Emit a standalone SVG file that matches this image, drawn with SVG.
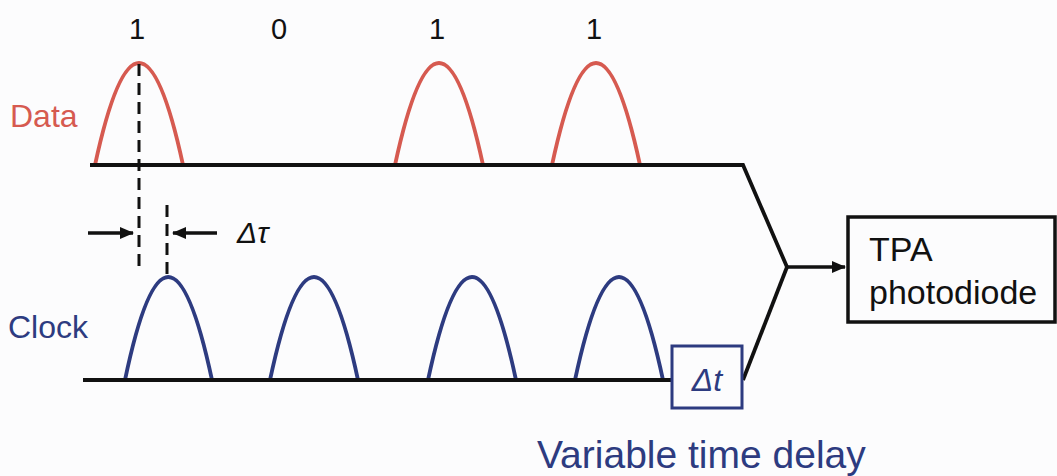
<svg xmlns="http://www.w3.org/2000/svg" width="1057" height="476" viewBox="0 0 1057 476">
  <defs>
    <marker id="ah" viewBox="0 0 14 12" refX="13" refY="6" markerWidth="14" markerHeight="12" markerUnits="userSpaceOnUse" orient="auto">
      <path d="M0,0 L14,6 L0,12 z" fill="#111"/>
    </marker>
    <marker id="ahBig" viewBox="0 0 14 12" refX="13" refY="6" markerWidth="14" markerHeight="12" markerUnits="userSpaceOnUse" orient="auto">
      <path d="M0,0 L14,6 L0,12 z" fill="#111"/>
    </marker>
    <style>
      .txt { font-family: "Liberation Sans", Arial, sans-serif; }
      .red { fill: #d65a50; }
      .blue { fill: #2d3b80; }
      .pulseR { fill: none; stroke: #d65a50; stroke-width: 3.8; }
      .pulseB { fill: none; stroke: #2d3b80; stroke-width: 3.8; }
      .line { fill: none; stroke: #111; stroke-width: 3.8; }
      .dash { fill: none; stroke: #111; stroke-width: 3; stroke-dasharray: 12 7; }
      .arr { fill: none; stroke: #111; stroke-width: 3.5; }
    </style>
  </defs>
  <rect width="1057" height="476" fill="#fcfcfd"/>

  <g id="bit-labels" class="txt" font-size="29" fill="#111" text-anchor="middle">
    <text x="137" y="39">1</text>
    <text x="279" y="39">0</text>
    <text x="437" y="39">1</text>
    <text x="594" y="39">1</text>
  </g>

  <g id="data-label"><text class="txt red" x="10" y="127" font-size="32">Data</text></g>
  <g id="clock-label"><text class="txt blue" x="8" y="338" font-size="32">Clock</text></g>

  <g id="data-pulses">
    <path class="pulseR" d="M95,165 Q139,-39 183,165"/>
    <path class="pulseR" d="M395,165 Q439,-39 483,165"/>
    <path class="pulseR" d="M552,165 Q596,-39 640,165"/>
  </g>

  <g id="clock-pulses">
    <path class="pulseB" d="M125,380 Q168,174 212,380"/>
    <path class="pulseB" d="M270,380 Q314,174 358,380"/>
    <path class="pulseB" d="M428,380 Q472,174 516,380"/>
    <path class="pulseB" d="M575,380 Q619,174 663,380"/>
  </g>

  <g id="delay-marks">
    <line class="dash" x1="139" y1="64" x2="139" y2="270"/>
    <line class="dash" x1="167" y1="205" x2="167" y2="278"/>
    <line class="arr" x1="88" y1="233" x2="133" y2="233" marker-end="url(#ah)"/>
    <line class="arr" x1="217" y1="233" x2="173" y2="233" marker-end="url(#ah)"/>
    <text class="txt" x="237" y="243" font-size="30" font-style="italic" fill="#111">Δτ</text>
  </g>

  <g id="connectors">
    <polyline class="line" points="90,165 743,165 787,267"/>
    <line class="line" x1="83" y1="380" x2="672" y2="380"/>
    <line class="line" x1="743" y1="380" x2="787" y2="267"/>
    <line class="arr" x1="787" y1="267" x2="845" y2="267" marker-end="url(#ahBig)"/>
  </g>

  <g id="delay-box">
    <rect x="672" y="346" width="70" height="62" fill="#fcfcfd" stroke="#2d3b80" stroke-width="3"/>
    <text class="txt blue" x="707" y="391" font-size="32" font-style="italic" text-anchor="middle">Δt</text>
  </g>

  <g id="tpa-photodiode">
    <rect x="848" y="217" width="207" height="105" fill="none" stroke="#111" stroke-width="3.5"/>
    <text class="txt" x="869" y="261" font-size="34" fill="#111">TPA</text>
    <text class="txt" x="869" y="304" font-size="34" fill="#111">photodiode</text>
  </g>

  <g id="delay-caption"><text class="txt blue" x="537" y="468" font-size="39">Variable time delay</text></g>
</svg>
